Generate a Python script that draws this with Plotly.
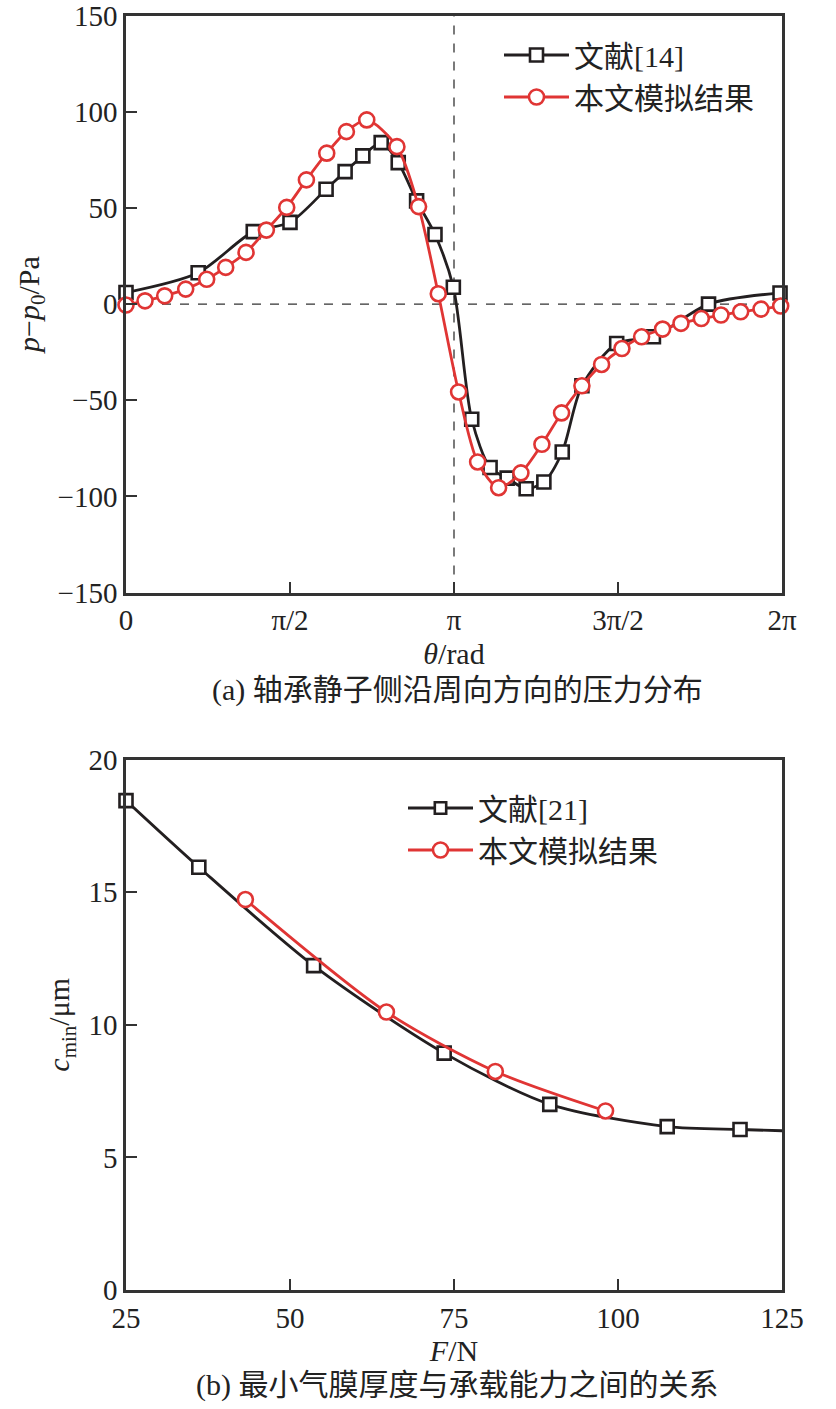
import numpy as np
import plotly.graph_objects as go

# ---------------- data (a) ----------------
theta_ref14_pi = [0, 0.220, 0.388, 0.500, 0.610, 0.668, 0.722, 0.778, 0.830, 0.886, 0.942, 0.998,
                  1.054, 1.110, 1.162, 1.220, 1.274, 1.330, 1.390, 1.496, 1.608, 1.776, 1.994]
p_ref14 = [6, 16.3, 37.7, 42.5, 59.7, 68.9, 77.1, 84, 73.6, 53.7, 36.2, 8.8,
           -59.9, -85, -90.5, -96, -92.5, -76.9, -42.5, -20.5, -17, 0, 5.8]

theta_sim_pi = [0, 0.058, 0.118, 0.182, 0.246, 0.304, 0.366, 0.428, 0.490, 0.550, 0.612, 0.672,
                0.734, 0.826, 0.892, 0.952, 1.014, 1.072, 1.136, 1.204, 1.268, 1.328, 1.390,
                1.450, 1.512, 1.572, 1.636, 1.692, 1.754, 1.814, 1.874, 1.936, 1.996]
p_sim = [-0.5, 1.7, 4.3, 7.8, 12.9, 19.1, 26.9, 38.5, 50.3, 64.6, 78.5, 89.7,
         95.8, 81.9, 50.7, 5.4, -45.7, -82.1, -95.5, -87.8, -72.9, -56.6, -42.5,
         -31.4, -23.1, -17, -13, -10, -7.5, -5.7, -4, -2.6, -1]

theta_tickvals_pi = [0, 0.5, 1, 1.5, 2]
theta_ticktext = ["0", "π/2", "π", "3π/2", "2π"]

# ---------------- data (b) ----------------
F_ref21 = [25.0, 36.1, 53.6, 73.5, 89.6, 107.5, 118.6, 125.5]
c_ref21 = [18.45, 15.94, 12.23, 8.93, 7.0, 6.16, 6.05, 6.0]
F_sim = [43.2, 64.7, 81.3, 98.1]
c_sim = [14.72, 10.48, 8.24, 6.75]

BLACK = "#231f20"
RED = "#e03534"
AX = "#333333"
FONT = "Liberation Serif, Noto Sans CJK SC, serif"

W, H = 836, 1409
def px(xp):
    return xp / W
def py(yp):
    return 1 - yp / H

fig = go.Figure()

fig.add_trace(go.Scatter(
    x=np.array(theta_ref14_pi) * np.pi, y=p_ref14, name="文献[14]",
    mode="lines+markers", line=dict(color=BLACK, width=2.8, shape="spline", smoothing=0.8),
    marker=dict(symbol="square", size=13, color="white", opacity=1,
                line=dict(color=BLACK, width=2.6)),
    xaxis="x", yaxis="y", legend="legend", cliponaxis=False))
fig.add_trace(go.Scatter(
    x=np.array(theta_sim_pi) * np.pi, y=p_sim, name="本文模拟结果",
    mode="lines+markers", line=dict(color=RED, width=2.8, shape="spline", smoothing=0.8),
    marker=dict(symbol="circle", size=15, color="white", opacity=1,
                line=dict(color=RED, width=2.6)),
    xaxis="x", yaxis="y", legend="legend", cliponaxis=False))

msz = [13] * (len(F_ref21) - 1) + [0]
fig.add_trace(go.Scatter(
    x=F_ref21, y=c_ref21, name="文献[21]",
    mode="lines+markers", line=dict(color=BLACK, width=2.8, shape="spline", smoothing=0.8),
    marker=dict(symbol="square", size=msz, color="white", opacity=1,
                line=dict(color=BLACK, width=2.6)),
    xaxis="x2", yaxis="y2", legend="legend2", cliponaxis=False))
fig.add_trace(go.Scatter(
    x=F_sim, y=c_sim, name="本文模拟结果",
    mode="lines+markers", line=dict(color=RED, width=2.8, shape="spline", smoothing=0.8),
    marker=dict(symbol="circle", size=15, color="white", opacity=1,
                line=dict(color=RED, width=2.6)),
    xaxis="x2", yaxis="y2", legend="legend2", cliponaxis=False))

axis_common = dict(showline=True, linecolor=AX, linewidth=2.5, mirror=True,
                   ticks="inside", ticklen=11, tickwidth=2, tickcolor=AX,
                   showgrid=False, zeroline=False, automargin=False,
                   ticklabeloverflow="allow",
                   tickfont=dict(family=FONT, size=29, color="#222"))

xdom = [px(126), px(782)]
fig.update_layout(
    width=W, height=H, margin=dict(l=0, r=0, t=0, b=0, autoexpand=False),
    paper_bgcolor="white", plot_bgcolor="white",
    font=dict(family=FONT, size=29, color="#222"),
    xaxis=dict(domain=xdom, range=[0, 2 * np.pi], anchor="y",
               tickvals=np.array(theta_tickvals_pi) * np.pi, ticktext=theta_ticktext,
               title=dict(text="<i>θ</i>/rad", font=dict(family=FONT, size=30), standoff=8),
               **axis_common),
    yaxis=dict(domain=[py(592.5), py(15.7)], range=[-150, 150], dtick=50, anchor="x",
               title=dict(text="<i>p</i>−<i>p</i><sub>0</sub>/Pa", font=dict(family=FONT, size=30), standoff=10),
               **axis_common),
    xaxis2=dict(domain=xdom, range=[25, 125], dtick=25, anchor="y2",
                title=dict(text="<i>F</i>/N", font=dict(family=FONT, size=30), standoff=4),
                **axis_common),
    yaxis2=dict(domain=[py(1290), py(759.5)], range=[0, 20], dtick=5, anchor="x2",
                title=dict(text="<i>c</i><sub>min</sub>/μm", font=dict(family=FONT, size=30), standoff=10),
                **axis_common),
    legend=dict(x=px(499), y=py(29), xanchor="left", yanchor="top",
                bgcolor="rgba(0,0,0,0)", font=dict(family=FONT, size=30, color="#222"),
                tracegroupgap=0, itemwidth=65),
    legend2=dict(x=px(403), y=py(782), xanchor="left", yanchor="top",
                 bgcolor="rgba(0,0,0,0)", font=dict(family=FONT, size=30, color="#222"),
                 tracegroupgap=0, itemwidth=65),
    showlegend=True,
)

# dashed reference lines in (a)
fig.add_shape(type="line", xref="x domain", yref="y", x0=0, x1=1, y0=0, y1=0,
              line=dict(color=AX, width=1.3, dash="dash"), layer="below")
fig.add_shape(type="line", xref="x", yref="y domain", x0=np.pi, x1=np.pi, y0=0, y1=1,
              line=dict(color=AX, width=1.3, dash="dash"), layer="below")

# captions
fig.add_annotation(text="(a) 轴承静子侧沿周向方向的压力分布", xref="paper", yref="paper",
                   x=px(457), y=py(690), showarrow=False, xanchor="center", yanchor="middle",
                   font=dict(family=FONT, size=30, color="#222"))
fig.add_annotation(text="(b) 最小气膜厚度与承载能力之间的关系", xref="paper", yref="paper",
                   x=px(457), y=py(1385), showarrow=False, xanchor="center", yanchor="middle",
                   font=dict(family=FONT, size=30, color="#222"))

fig.write_html("out.html", config={"displayModeBar": False},
               post_script="document.body.style.margin='0';")
